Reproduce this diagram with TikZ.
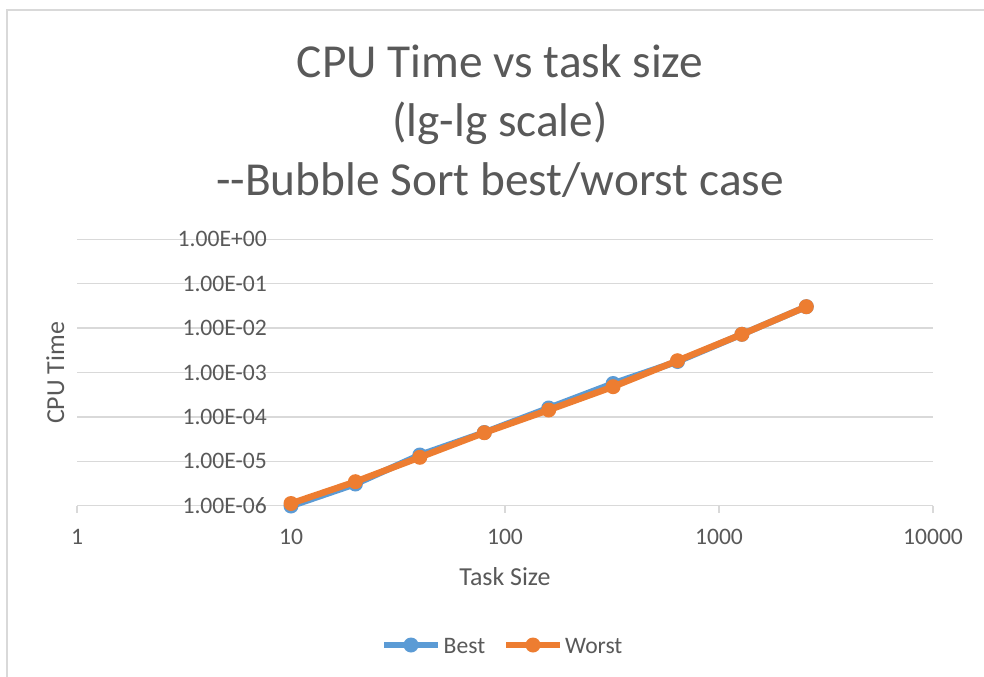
\documentclass[tikz,border=0pt]{standalone}
\usepackage{fontspec}
\setmainfont{Carlito}
\definecolor{txt}{HTML}{595959}
\definecolor{gridc}{HTML}{D9D9D9}
\definecolor{bestc}{HTML}{5B9BD5}
\definecolor{worstc}{HTML}{ED7D31}
\begin{document}
\begin{tikzpicture}[x=1bp,y=-1bp,
  gridline/.style={draw=gridc,line width=1.5bp},
  ticklbl/.style={text=txt,font=\fontsize{23.7}{28}\selectfont,inner sep=0},
  axtitle/.style={text=txt,font=\fontsize{26}{31}\selectfont,inner sep=0},
  titlestyle/.style={text=txt,font=\fontsize{47.5}{59.5}\selectfont,inner sep=0},
  bestline/.style={draw=bestc,line width=6.5bp,line join=round,line cap=round},
  worstline/.style={draw=worstc,line width=6.5bp,line join=round,line cap=round},
  bestmark/.style={circle,fill=bestc,minimum size=15bp,inner sep=0},
  worstmark/.style={circle,fill=worstc,minimum size=15bp,inner sep=0}]
\useasboundingbox[fill=white] (0,0) rectangle (984,677);
% chart border
\draw[gridc,line width=1.5bp] (7,677) -- (7,10) -- (984,10);
% title
\node[titlestyle,anchor=base] (title1) at (500,77.5) {CPU Time vs task size};
\node[titlestyle,anchor=base] (title2) at (500,136.5) {(lg-lg scale)};
\node[titlestyle,anchor=base] (title3) at (500,196) {{-}{-}Bubble Sort best/worst case};
% gridlines and y labels
\foreach \k/\lab in {0/1.00E+00,1/1.00E-01,2/1.00E-02,3/1.00E-03,4/1.00E-04,5/1.00E-05,6/1.00E-06}{
  \draw[gridline] (77,239.3+44.4*\k) -- (933,239.3+44.4*\k);
  \node[ticklbl,anchor=base east] (yl\k) at (267,239.3+44.4*\k+7.6) {\lab};
}
% x ticks and labels
\foreach \i/\lab in {0/1,1/10,2/100,3/1000,4/10000}{
  \draw[gridline] (77+214*\i,505.7) -- (77+214*\i,513);
  \node[ticklbl,anchor=base] (xl\i) at (77+214*\i,544) {\lab};
}
% axis titles
\node[axtitle,anchor=base] (xt) at (505,585) {Task Size};
\node[axtitle,anchor=base,rotate=90] (yt) at (64,373) {CPU Time};
% data coordinates
\foreach \n/\x/\yb/\yw in {1/291/506/503.5,2/355.4/484/481.7,3/419.8/455/457.3,4/484.3/432.5/432.7,5/548.7/408/410,6/613.1/383.5/386.7,7/677.5/361.5/360.7,8/741.9/334.3/334.3,9/806.3/306.7/306.7}{
  \coordinate (b\n) at (\x,\yb);
  \coordinate (w\n) at (\x,\yw);
}
\draw[bestline] (b1) -- (b2) -- (b3) -- (b4) -- (b5) -- (b6) -- (b7) -- (b8) -- (b9);
\foreach \n in {1,...,9}{\node[bestmark] (bm\n) at (b\n) {};}
\draw[worstline] (w1) -- (w2) -- (w3) -- (w4) -- (w5) -- (w6) -- (w7) -- (w8) -- (w9);
\foreach \n in {1,...,9}{\node[worstmark] (wm\n) at (w\n) {};}
% legend
\coordinate (lb1) at (384,645);
\coordinate (lb2) at (438,645);
\draw[bestc,line width=5.5bp] (lb1) -- (lb2);
\node[bestmark] (lbm) at (411,645) {};
\node[ticklbl,anchor=base west] (lbt) at (443.5,653) {Best};
\coordinate (lw1) at (506,645);
\coordinate (lw2) at (560,645);
\draw[worstc,line width=5.5bp] (lw1) -- (lw2);
\node[worstmark] (lwm) at (533,645) {};
\node[ticklbl,anchor=base west] (lwt) at (565,653) {Worst};
\end{tikzpicture}
\end{document}
